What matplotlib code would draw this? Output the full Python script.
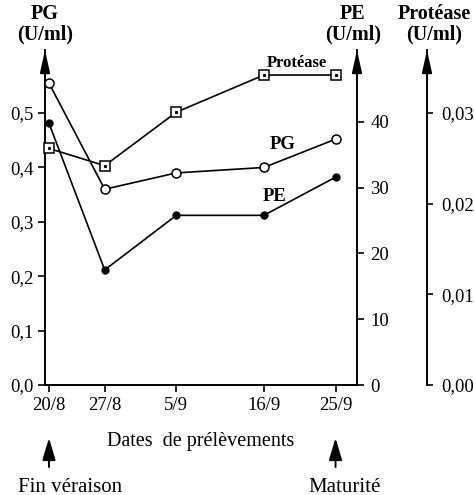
import numpy as np
import matplotlib
matplotlib.use("Agg")
import matplotlib.pyplot as plt
from matplotlib.ticker import FuncFormatter

# data
dates = ['20/8', '27/8', '5/9', '16/9', '25/9']
days = [0, 7, 16, 27, 36]                      # days after 20/8
pg = [0.555, 0.36, 0.39, 0.40, 0.452]          # U/ml, left axis
pe = [39.8, 17.5, 25.8, 25.8, 31.6]            # U/ml, PE axis
protease = [0.0261, 0.0242, 0.0301, 0.0342, 0.0342]  # U/ml, protease axis

pg_ticks = [0.0, 0.1, 0.2, 0.3, 0.4, 0.5]
pe_ticks = [0, 10, 20, 30, 40]
prot_ticks = [0.00, 0.01, 0.02, 0.03]

plt.rcParams['font.family'] = ['Liberation Serif', 'DejaVu Serif']
plt.rcParams['font.size'] = 13.5

W, H = 474, 495
fig = plt.figure(figsize=(W / 100, H / 100), dpi=100)
x_left, x_right, y_bot, y_top = 45, 357, 385, 50
ax = fig.add_axes([x_left / W, 1 - y_bot / H, (x_right - x_left) / W, (y_bot - y_top) / H])

pg_top = 0.616
pe_top = pg_top * 82.7
prot_top = pg_top * 0.06
ax.set_ylim(0, pg_top)
ax.set_xlim(-0.5, 38.7)

lw = 1.2
k = 'black'
comma = FuncFormatter(lambda v, p: ('%.1f' % v).replace('.', ','))
comma2 = FuncFormatter(lambda v, p: ('%.2f' % v).replace('.', ','))

# PG: open circles
ax.plot(days, pg, '-', color=k, lw=lw, marker='o', ms=6.5, mfc='white', mec=k, mew=1.1,
        clip_on=False, zorder=5)

# PE axis
ax2 = ax.twinx()
ax2.set_ylim(0, pe_top)
ax2.plot(days, pe, '-', color=k, lw=lw, marker='o', ms=5, mfc=k, mec=k,
         clip_on=False, zorder=5)

# Protease axis
ax3 = ax.twinx()
ax3.set_ylim(0, prot_top)
ax3.plot(days, protease, '-', color=k, lw=lw, marker='s', ms=7, mfc='white', mec=k, mew=1.1,
         clip_on=False, zorder=5)
ax3.plot(days, protease, linestyle='none', marker='s', ms=1.2, mfc=k, mec=k,
         clip_on=False, zorder=6)
prot_pos = (427 - x_left) / (x_right - x_left)
ax3.spines['right'].set_position(('axes', prot_pos))

for a in (ax, ax2, ax3):
    for s in a.spines.values():
        s.set_visible(False)
        s.set_linewidth(1.4)

ax.spines['left'].set_visible(True)
ax.spines['bottom'].set_visible(True)
ax2.spines['right'].set_visible(True)
ax3.spines['right'].set_visible(True)

ax.set_xticks(days)
ax.set_xticklabels(dates)
ax.set_yticks(pg_ticks)
ax.yaxis.set_major_formatter(comma)
ax.tick_params(axis='both', direction='out', length=5, width=1.2, pad=3.5)

ax2.set_yticks(pe_ticks)
ax2.tick_params(axis='y', direction='out', length=5, width=1.2, pad=4.5)

ax3.set_yticks(prot_ticks)
ax3.yaxis.set_major_formatter(comma2)
ax3.tick_params(axis='y', direction='out', length=4, width=1.2, pad=6)

# arrow heads on top of the vertical axes
for xa in (0, 1, prot_pos):
    ax.annotate('', xy=(xa, 1.0), xytext=(xa, 0.95), xycoords='axes fraction',
                arrowprops=dict(arrowstyle='-|>,head_length=1.0,head_width=0.22',
                                color=k, lw=1.4, shrinkA=0, shrinkB=0), annotation_clip=False)

# axis titles
fig.text(45 / W, 1 - 4 / H, 'PG\n(U/ml)', ha='center', va='top', fontsize=14.5,
         fontweight='bold', linespacing=1.0)
fig.text(353 / W, 1 - 4 / H, 'PE\n(U/ml)', ha='center', va='top', fontsize=14.5,
         fontweight='bold', linespacing=1.0)
fig.text(434 / W, 1 - 4 / H, 'Protéase\n(U/ml)', ha='center', va='top', fontsize=14.5,
         fontweight='bold', linespacing=1.0)

# series labels
ax.text(31.2, 0.592, 'Protéase', ha='center', va='center', fontsize=12, fontweight='bold')
ax.text(29.4, 0.443, 'PG', ha='center', va='center', fontsize=13.5, fontweight='bold')
ax.text(28.4, 0.346, 'PE', ha='center', va='center', fontsize=13.5, fontweight='bold')

ax.set_xlabel('Dates  de prélèvements', fontsize=14.5, labelpad=13)

# event arrows under the x axis
for d, txt, tx in ((days[0], 'Fin véraison', 2.6), (days[-1], 'Maturité', 37.1)):
    ax.annotate('', xy=(d, 1 - 438 / H), xytext=(d, 1 - 467 / H),
                xycoords=('data', 'figure fraction'), textcoords=('data', 'figure fraction'),
                arrowprops=dict(arrowstyle='-|>,head_length=1.0,head_width=0.3',
                                color=k, lw=1.4, shrinkA=0, shrinkB=0), annotation_clip=False)
    ax.annotate(txt, xy=(tx, 1 - 487 / H), xycoords=('data', 'figure fraction'),
                ha='center', va='center', fontsize=15, annotation_clip=False)

fig.savefig('out.png', dpi=100)
